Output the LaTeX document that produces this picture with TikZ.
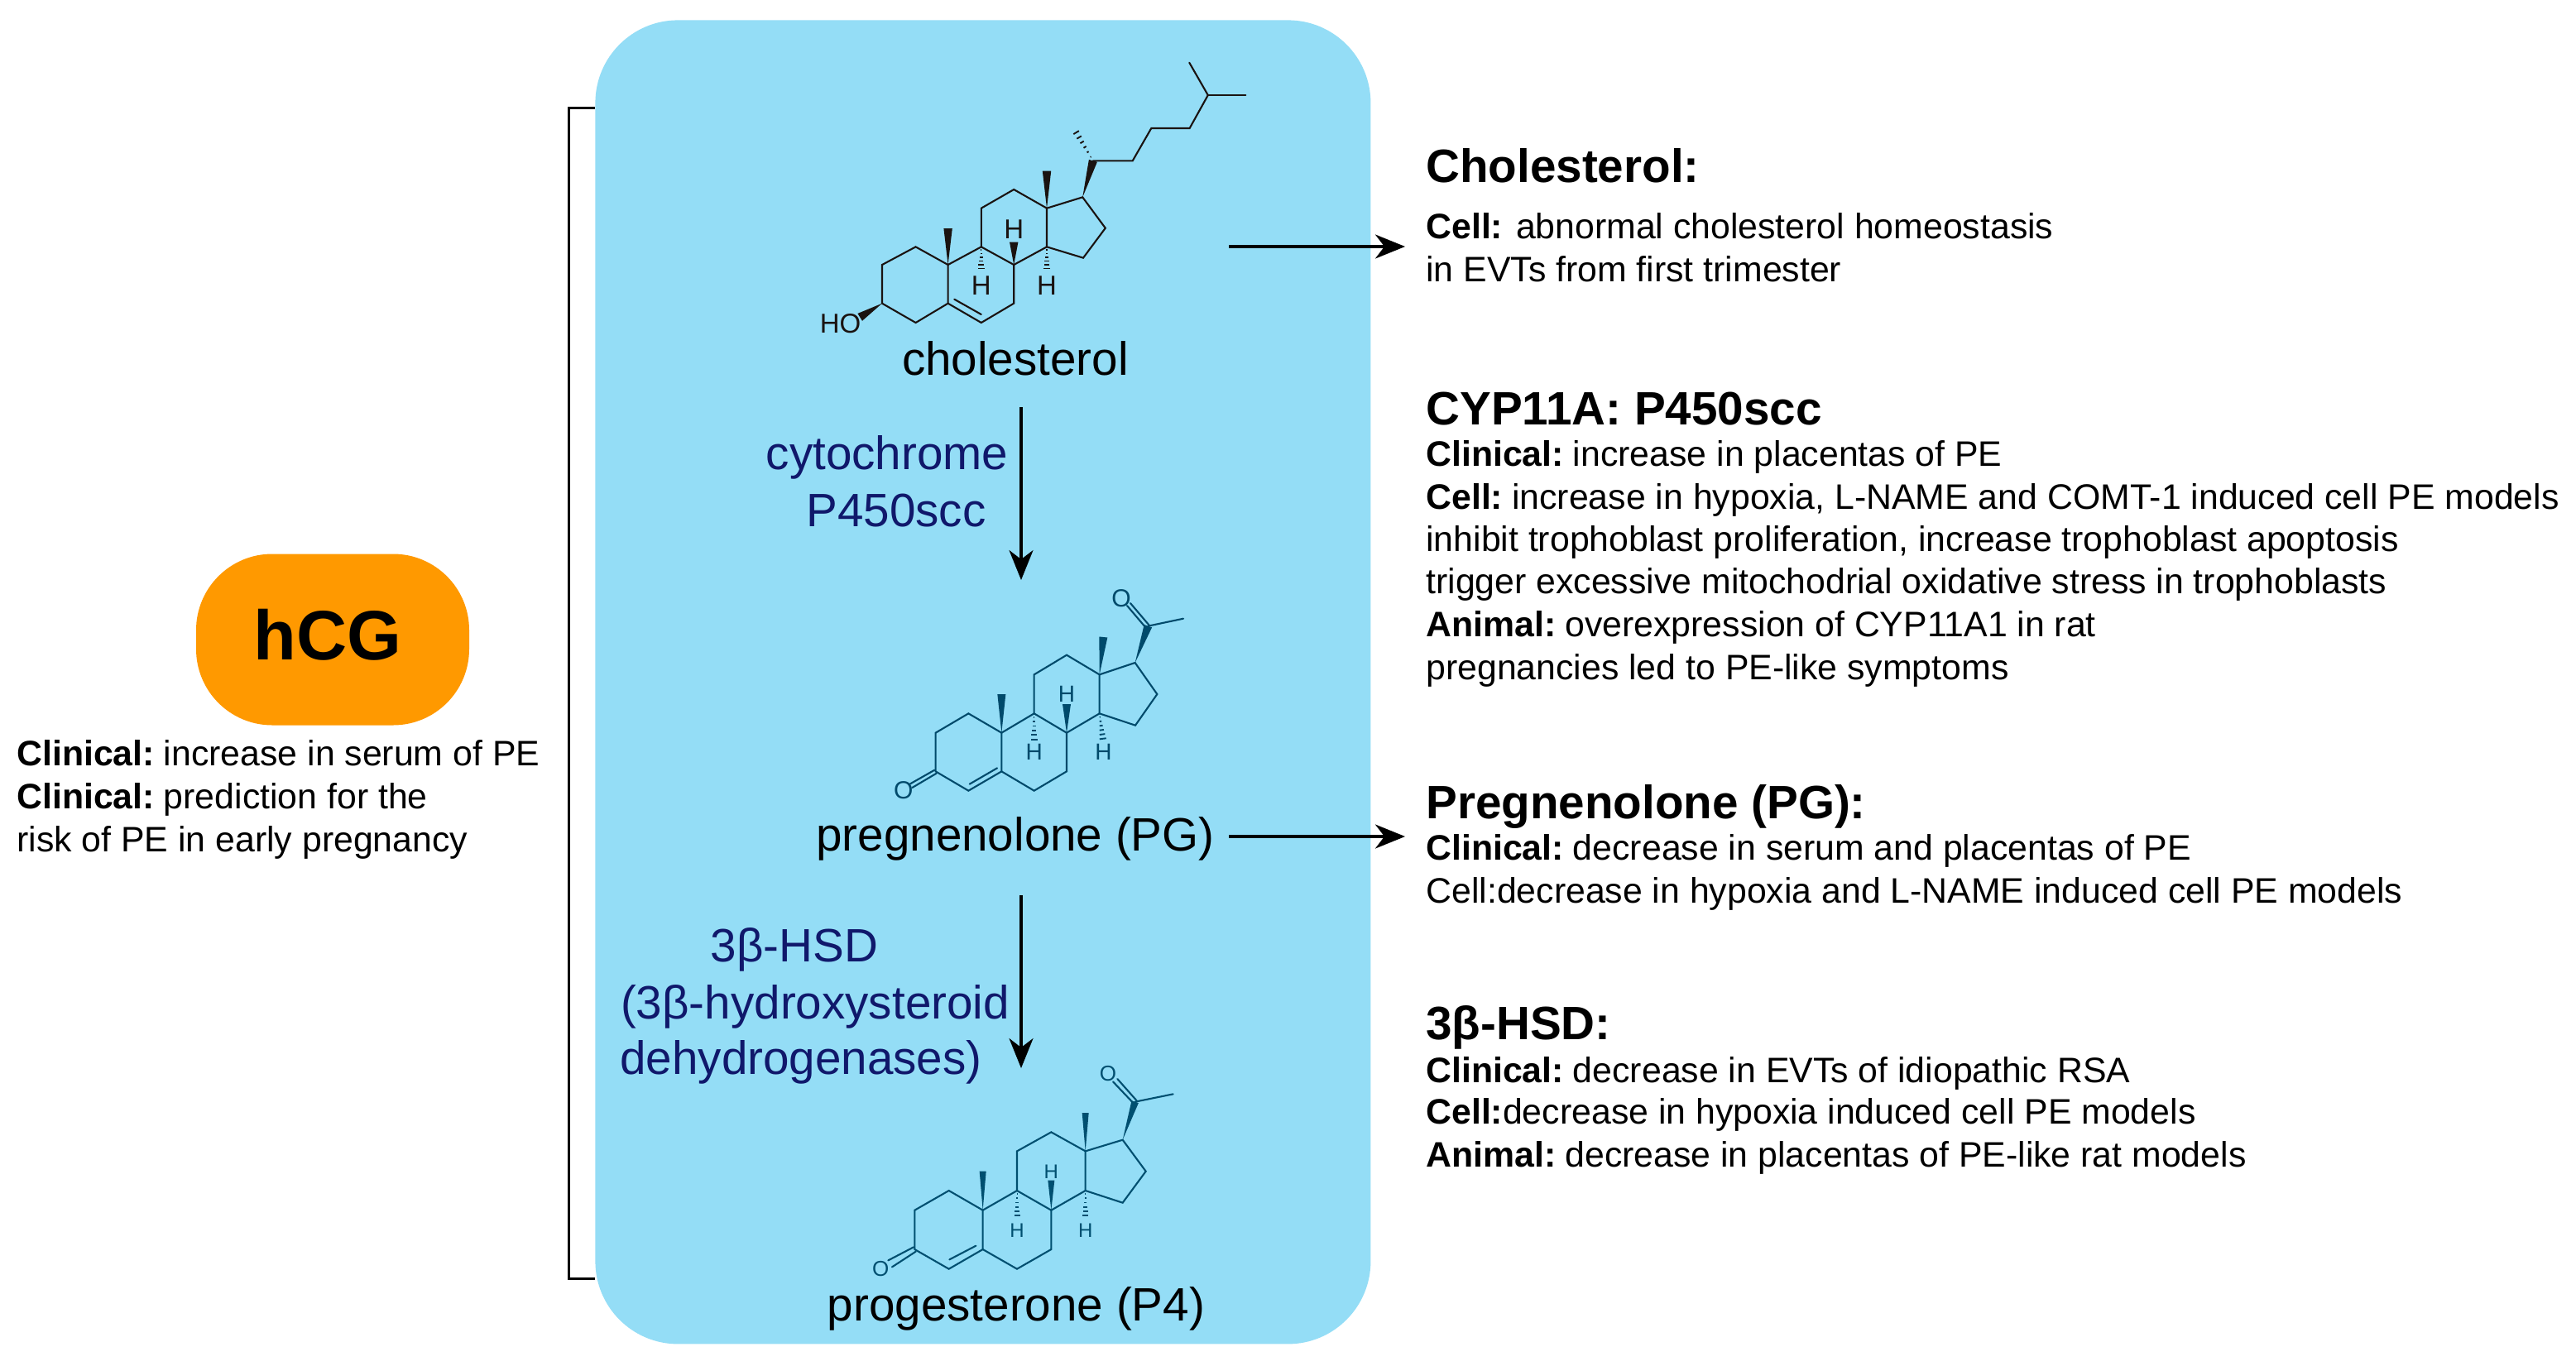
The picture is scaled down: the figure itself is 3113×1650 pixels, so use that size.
\documentclass[tikz,border=0pt]{standalone}
\usepackage{fontspec}
\setmainfont{Liberation Sans}
\usetikzlibrary{arrows.meta,calc}
\definecolor{panelblue}{HTML}{94DDF6}
\definecolor{hcgorange}{HTML}{FF9900}
\definecolor{navytext}{HTML}{10186B}
\definecolor{molone}{HTML}{1A1311}
\definecolor{moltwo}{HTML}{004A6B}
\definecolor{molthree}{HTML}{004F70}
\tikzset{
  body/.style={anchor=base west,inner sep=0pt,font=\fontsize{21.4}{24}\selectfont},
  head/.style={anchor=base west,inner sep=0pt,font=\fontsize{28.3}{32}\bfseries\selectfont},
  mollabel/.style={anchor=base,inner sep=0pt,font=\fontsize{28.3}{32}\selectfont},
  enzyme/.style={anchor=base,inner sep=0pt,text=navytext,font=\fontsize{28.3}{32}\selectfont},
  flow/.style={line width=1.6pt,-{Stealth[length=18pt,width=14.5pt,inset=5.5pt]}},
  bond/.style={line width=1.05pt,line cap=round,line join=miter},
  atomtext/.style={inner sep=0pt,font=\fontsize{#1}{#1}\selectfont},
}
\newcommand{\bl}[1]{\textbf{#1}\hspace{-2.4pt}}
% wedge bond: narrow at #1, wide (half-width #3) at #2
\newcommand{\wedgeb}[3]{\fill ($#2!#3!90:#1$) -- ($#2!#3!-90:#1$) -- #1 -- cycle;}
% hashed bond: narrow at #1, wide (half-width #3) at #2
\newcommand{\hashb}[3]{%
  \foreach \hb in {0.12,0.27,0.42,0.57,0.72,0.87,1.0}{%
    \path #1 -- #2 coordinate[pos=\hb] (hp);
    \draw[line width=0.95pt,line cap=butt] ($(hp)!\hb*#3!90:#2$) -- ($(hp)!\hb*#3!-90:#2$);
  }}
\begin{document}
\begin{tikzpicture}[x=0.5pt,y=-0.5pt]
\useasboundingbox (0,0) rectangle (3113,1650);
\fill[white] (0,0) rectangle (3113,1650);

% panel
\node[draw=none,fill=panelblue,rounded corners=50pt,minimum width=468.5pt,minimum height=800pt,inner sep=0pt,anchor=north west] (panel) at (719,24) {};

% hCG
\node[fill=hcgorange,rounded corners=46pt,minimum width=165pt,minimum height=103.5pt,inner sep=0pt] (hcg) at (402,773) {};
\node[inner sep=0pt,font=\fontsize{42.3}{46}\bfseries\selectfont] (hcgt) at (396,767) {hCG};
\node[body] (hcgA) at (20,925) {\bl{Clinical:} increase in serum of PE};
\node[body] (hcgB) at (20,977) {\bl{Clinical:} prediction for the};
\node[body] (hcgC) at (20,1029) {risk of PE in early pregnancy};

% bracket
\coordinate (brT) at (719,130);
\coordinate (brB) at (719,1545);
\coordinate (brTL) at (687,130);
\coordinate (brBL) at (687,1545);
\draw[line width=1.5pt] (brT) -- (brTL) -- (brBL) -- (brB);

% cholesterol molecule
\begin{scope}[shift={(480pt,-25pt)},x=0.19135pt,y=-0.16667pt,molone,bond]
\coordinate (a1) at (277,810); \coordinate (a2) at (383,745); \coordinate (a3) at (485,810);
\coordinate (a4) at (485,950); \coordinate (a5) at (383,1020); \coordinate (a6) at (277,950);
\coordinate (b2) at (590,745); \coordinate (b3) at (693,810); \coordinate (b4) at (693,950); \coordinate (b5) at (590,1020);
\coordinate (c1) at (590,605); \coordinate (c2) at (693,537); \coordinate (c3) at (797,605); \coordinate (c4) at (797,745);
\coordinate (d1) at (910,565); \coordinate (d2) at (982,677); \coordinate (d3) at (912,785);
\coordinate (s1) at (943,433); \coordinate (s2) at (1068,433); \coordinate (s3) at (1127,315);
\coordinate (s4) at (1248,315); \coordinate (s5) at (1306,195); \coordinate (s6) at (1247,77); \coordinate (s7) at (1425,195);
\draw (a3) -- (a2) -- (a1) -- (a6) -- (a5) -- (a4) -- cycle;
\draw (a3) -- (b2) -- (b3) -- (b4) -- (b5) -- (a4);
\draw (b2) -- (c1) -- (c2) -- (c3) -- (c4) -- (b3);
\draw (c3) -- (d1) -- (d2) -- (d3) -- (c4);
\draw (s1) -- (s2) -- (s3) -- (s4) -- (s5) -- (s6);
\draw (s5) -- (s7);
\draw (505,935) -- (590,990);
\wedgeb{(a3)}{(485,678)}{2.6pt}
\wedgeb{(c3)}{(797,470)}{2.6pt}
\wedgeb{(b3)}{(693,728)}{2.6pt}
\wedgeb{(d1)}{(s1)}{2.6pt}
\wedgeb{(a6)}{(207,1000)}{2.6pt}
\hashb{(s1)}{(882,315)}{2.2pt}
\hashb{(b2)}{(590,835)}{2.3pt}
\hashb{(c4)}{(797,835)}{2.3pt}
\node[atomtext=16.5,text=molone] (ch1) at (693,680) {H};
\node[atomtext=16.5,text=molone] (ch2) at (590,885) {H};
\node[atomtext=16.5,text=molone] (ch3) at (797,885) {H};
\node[atomtext=16.5,text=molone] (choh) at (145,1022) {HO};
\end{scope}
\node[mollabel] (lchol) at (1227,453) {cholesterol};

% pregnenolone molecule
\begin{scope}[shift={(520pt,-345pt)},x=0.16667pt,y=-0.16667pt,moltwo,bond]
\coordinate (a1) at (272,587); \coordinate (a2) at (391,517); \coordinate (a3) at (511,587);
\coordinate (a4) at (511,727); \coordinate (a5) at (391,797); \coordinate (a6) at (272,727);
\coordinate (b2) at (629,517); \coordinate (b3) at (747,587); \coordinate (b4) at (747,727); \coordinate (b5) at (629,797);
\coordinate (c1) at (629,376); \coordinate (c2) at (747,305); \coordinate (c3) at (866,376); \coordinate (c4) at (866,517);
\coordinate (d1) at (995,333); \coordinate (d2) at (1075,447); \coordinate (d3) at (996,560);
\coordinate (s1) at (1042,200); \coordinate (me) at (1170,173);
\draw (a3) -- (a2) -- (a1) -- (a6) -- (a5) -- (a4) -- cycle;
\draw (a3) -- (b2) -- (b3) -- (b4) -- (b5) -- (a4);
\draw (b2) -- (c1) -- (c2) -- (c3) -- (c4) -- (b3);
\draw (c3) -- (d1) -- (d2) -- (d3) -- (c4);
\draw (s1) -- (me);
\draw (395,773) -- (495,715);
\draw (1046,197) -- (978,117);
\draw (1034,206) -- (966,126);
\draw (275,734) -- (187,786);
\draw (268,722) -- (180,772);
\wedgeb{(a3)}{(511,447)}{2.5pt}
\wedgeb{(c3)}{(880,240)}{2.5pt}
\wedgeb{(b3)}{(747,483)}{2.5pt}
\wedgeb{(d1)}{(s1)}{2.5pt}
\hashb{(b2)}{(629,625)}{2.3pt}
\hashb{(c4)}{(880,622)}{2.3pt}
\node[atomtext=14,text=moltwo] (pg1) at (747,447) {H};
\node[atomtext=14,text=moltwo] (pg2) at (629,658) {H};
\node[atomtext=14,text=moltwo] (pg3) at (880,658) {H};
\node[atomtext=15,text=moltwo] (pgo1) at (945,98) {O};
\node[atomtext=15,text=moltwo] (pgo2) at (155,795) {O};
\end{scope}
\node[mollabel] (lpg) at (1227,1028) {pregnenolone (PG)};

% progesterone molecule
\begin{scope}[shift={(520pt,-645pt)},x=0.16667pt,y=-0.16667pt,molthree,bond]
\coordinate (a1) at (196,518); \coordinate (a2) at (320,447); \coordinate (a3) at (443,518);
\coordinate (a4) at (443,660); \coordinate (a5) at (320,731); \coordinate (a6) at (196,660);
\coordinate (b2) at (567,447); \coordinate (b3) at (691,518); \coordinate (b4) at (691,660); \coordinate (b5) at (567,731);
\coordinate (c1) at (567,304); \coordinate (c2) at (691,235); \coordinate (c3) at (815,304); \coordinate (c4) at (815,447);
\coordinate (d1) at (950,263); \coordinate (d2) at (1034,377); \coordinate (d3) at (950,491);
\coordinate (s1) at (995,125); \coordinate (me) at (1133,97);
\draw (a3) -- (a2) -- (a1) -- (a6) -- (a5) -- (a4) -- cycle;
\draw (a3) -- (b2) -- (b3) -- (b4) -- (b5) -- (a4);
\draw (b2) -- (c1) -- (c2) -- (c3) -- (c4) -- (b3);
\draw (c3) -- (d1) -- (d2) -- (d3) -- (c4);
\draw (s1) -- (me);
\draw (322,697) -- (418,647);
\draw (1001,121) -- (931,42);
\draw (989,130) -- (915,52);
\draw (200,668) -- (114,724);
\draw (192,652) -- (100,700);
\wedgeb{(a3)}{(443,377)}{2pt}
\wedgeb{(c3)}{(815,165)}{2pt}
\wedgeb{(b3)}{(691,410)}{2pt}
\wedgeb{(d1)}{(s1)}{2.2pt}
\hashb{(b2)}{(567,550)}{2pt}
\hashb{(c4)}{(815,550)}{2pt}
\node[atomtext=12,text=molthree] (p1) at (691,378) {H};
\node[atomtext=12,text=molthree] (p2) at (567,592) {H};
\node[atomtext=12,text=molthree] (p3) at (815,592) {H};
\node[atomtext=13,text=molthree] (po1) at (897,22) {O};
\node[atomtext=13,text=molthree] (po2) at (73,732) {O};
\end{scope}
\node[mollabel] (lp4) at (1228,1596) {progesterone (P4)};

% enzyme labels
\node[enzyme] (e1a) at (1072,567) {cytochrome};
\node[enzyme] (e1b) at (1083,636) {P450scc};
\node[enzyme] (e2a) at (960,1162) {3β-HSD};
\node[enzyme] (e2b) at (985,1231) {(3β-hydroxysteroid};
\node[enzyme] (e2c) at (968,1298) {dehydrogenases)};

% arrows
\coordinate (v1s) at (1234,492); \coordinate (v1e) at (1234,701);
\coordinate (v2s) at (1234,1082); \coordinate (v2e) at (1234,1291);
\coordinate (h1s) at (1485,298); \coordinate (h1e) at (1698,298);
\coordinate (h2s) at (1485,1011); \coordinate (h2e) at (1698,1011);
\draw[flow] (v1s) -- (v1e);
\draw[flow] (v2s) -- (v2e);
\draw[flow] (h1s) -- (h1e);
\draw[flow] (h2s) -- (h2e);

% right text
\node[head] (t1) at (1723,220) {Cholesterol:};
\node[body] (t1a) at (1723,288) {\textbf{Cell:} abnormal cholesterol homeostasis};
\node[body] (t1b) at (1723,340) {in EVTs from first trimester};

\node[head] (t2) at (1723,513) {CYP11A: P450scc};
\node[body] (t2a) at (1723,563) {\bl{Clinical:} increase in placentas of PE};
\node[body] (t2b) at (1723,615) {\bl{Cell:} increase in hypoxia, L-NAME and COMT-1 induced cell PE models};
\node[body] (t2c) at (1723,666) {inhibit trophoblast proliferation, increase trophoblast apoptosis};
\node[body] (t2d) at (1723,717) {trigger excessive mitochodrial oxidative stress in trophoblasts};
\node[body] (t2e) at (1723,769) {\bl{Animal:} overexpression of CYP11A1 in rat};
\node[body] (t2f) at (1723,821) {pregnancies led to PE-like symptoms};

\node[head] (t3) at (1723,989) {Pregnenolone (PG):};
\node[body] (t3a) at (1723,1039) {\bl{Clinical:} decrease in serum and placentas of PE};
\node[body] (t3b) at (1723,1091) {Cell:decrease in hypoxia and L-NAME induced cell PE models};

\node[head] (t4) at (1723,1256) {3β-HSD:};
\node[body] (t4a) at (1723,1308) {\bl{Clinical:} decrease in EVTs of idiopathic RSA};
\node[body] (t4b) at (1723,1358) {\textbf{Cell:}decrease in hypoxia induced cell PE models};
\node[body] (t4c) at (1723,1410) {\bl{Animal:} decrease in placentas of PE-like rat models};
\end{tikzpicture}
\end{document}
